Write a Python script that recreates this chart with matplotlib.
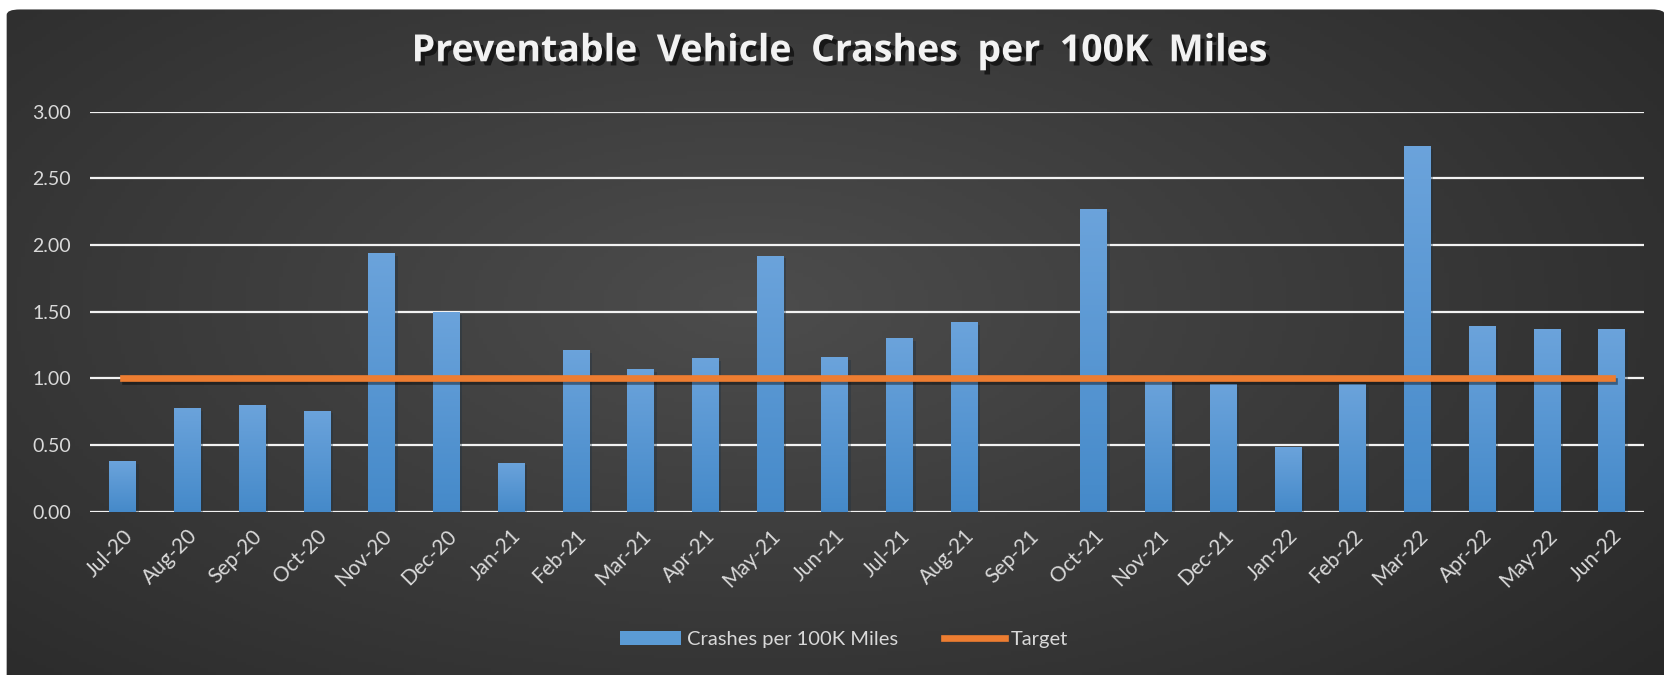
import numpy as np
import matplotlib.pyplot as plt
import matplotlib.patheffects as pe
from matplotlib.patches import FancyBboxPatch

plt.rcParams['font.family'] = ['Lato', 'DejaVu Sans']

# data
months = ['Jul-20', 'Aug-20', 'Sep-20', 'Oct-20', 'Nov-20', 'Dec-20',
          'Jan-21', 'Feb-21', 'Mar-21', 'Apr-21', 'May-21', 'Jun-21',
          'Jul-21', 'Aug-21', 'Sep-21', 'Oct-21', 'Nov-21', 'Dec-21',
          'Jan-22', 'Feb-22', 'Mar-22', 'Apr-22', 'May-22', 'Jun-22']
crashes = [0.38, 0.78, 0.80, 0.76, 1.94, 1.50,
           0.37, 1.21, 1.07, 1.15, 1.92, 1.16,
           1.30, 1.42, 0.00, 2.27, 1.00, 0.96,
           0.49, 0.96, 2.74, 1.39, 1.37, 1.37]
target = [1.0] * len(months)
yticks = [0.0, 0.5, 1.0, 1.5, 2.0, 2.5, 3.0]

fig = plt.figure(figsize=(16.65, 6.75), dpi=100)
fig.patch.set_facecolor('white')

# dark card with radial gradient
bg = fig.add_axes([0, 0, 1, 1], zorder=-10)
bg.set_axis_off()
bg.set_xlim(0, 1)
bg.set_ylim(0, 1)
gx, gy = np.meshgrid(np.linspace(0, 1, 400), np.linspace(0, 1, 200))
r = np.sqrt(((gx - 0.45) / 0.75) ** 2 + ((gy - 0.55) / 0.9) ** 2)
shade = np.clip(0.30 - 0.15 * r, 0.15, 0.30)
img = bg.imshow(np.dstack([shade] * 3), extent=[0, 1, 0, 1], origin='lower',
                aspect='auto')
card = FancyBboxPatch((0.004, -0.02), 0.996, 1.01 - 0.004, transform=bg.transAxes,
                      boxstyle='round,pad=0,rounding_size=0.008',
                      facecolor='none', edgecolor='none')
bg.add_patch(card)
img.set_clip_path(card)

ax = fig.add_axes([0.0542, 0.2415, 0.9332, 0.5933])
ax.set_facecolor('none')
x = np.arange(len(months))

for yv in yticks:
    ax.axhline(yv, color='#f2f2f2', lw=1.6, zorder=1)

bars = ax.bar(x, crashes, width=0.41, color='#5b9bd5', zorder=2,
              label='Crashes per 100K Miles')
grad = np.linspace(0, 1, 100).reshape(-1, 1)
top_c = np.array([0.42, 0.64, 0.86])
bot_c = np.array([0.27, 0.54, 0.79])
cols = bot_c + (top_c - bot_c) * grad[..., None]
for b in bars:
    if b.get_height() <= 0:
        continue
    b.set_path_effects([pe.SimplePatchShadow(offset=(2, -2), alpha=0.35), pe.Normal()])
    im = ax.imshow(cols, extent=[b.get_x(), b.get_x() + b.get_width(), 0, b.get_height()],
                   origin='lower', aspect='auto', zorder=2.5)
    im.set_clip_path(b)

line, = ax.plot(x, target, color='#ed7d31', lw=4.8, zorder=3, label='Target',
                path_effects=[pe.SimpleLineShadow(offset=(1.5, -2), alpha=0.4), pe.Normal()])

ax.set_xlim(-0.5, len(months) - 0.5)
ax.set_ylim(0, 3)
ax.set_yticks(yticks)
ax.set_yticklabels(['%.2f' % v for v in yticks], color='#d9d9d9', fontsize=14)
ax.set_xticks(x)
ax.set_xticklabels(months, rotation=45, ha='right', rotation_mode='anchor',
                   color='#d9d9d9', fontsize=15)
ax.tick_params(length=0, pad=14)
ax.tick_params(axis='x', pad=10)
for s in ax.spines.values():
    s.set_visible(False)

fig.text(0.504, 0.924, 'Preventable  Vehicle  Crashes  per  100K  Miles',
         ha='center', va='center', fontsize=27, fontweight='bold', color='#f2f2f2',
         family=['Open Sans', 'DejaVu Sans'],
         path_effects=[pe.SimplePatchShadow(offset=(3, -3), alpha=0.6, shadow_rgbFace='black'),
                       pe.Normal()])

leg = fig.legend([bars, line], ['Crashes per 100K Miles', 'Target'],
                 loc='center', bbox_to_anchor=(0.507, 0.053), ncol=2, frameon=False,
                 fontsize=14.5, labelcolor='#d9d9d9', handlelength=3.0,
                 handletextpad=0.3, columnspacing=2.3)
for h in leg.legend_handles:
    h.set_path_effects([])

fig.savefig('out.png', dpi=100)
